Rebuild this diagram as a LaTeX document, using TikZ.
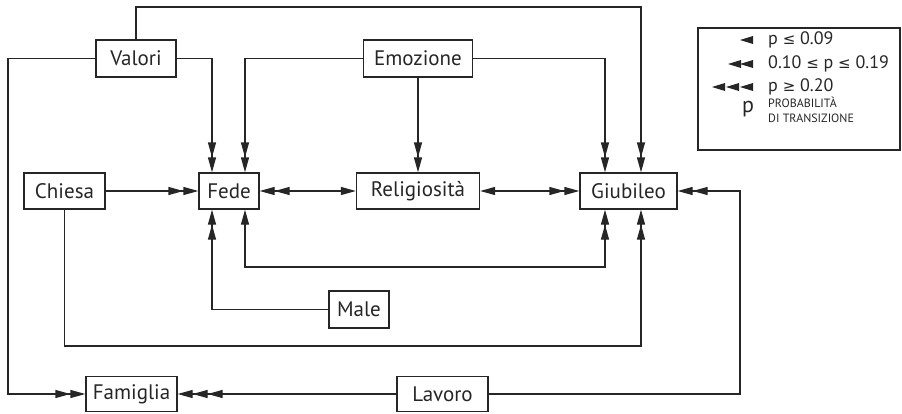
\documentclass[tikz,border=0pt]{standalone}
\usepackage{fontspec}
\setmainfont{PT Sans}
\newfontfamily\symfont{DejaVu Sans}
\newcommand{\myle}{{\symfont\fontsize{15}{17}\selectfont ≤}}
\newcommand{\myge}{{\symfont\fontsize{15}{17}\selectfont ≥}}
\usetikzlibrary{arrows.meta}
\definecolor{ink}{HTML}{262626}
\tikzset{
  box/.style={draw=ink, line width=1.3pt, inner sep=0pt, font=\fontsize{21}{23}\selectfont, text=ink},
  conn/.style={draw=ink, line width=1.3pt},
  one/.style={conn, -{Triangle[length=15pt,width=8pt]}},
  two/.style={conn, -{Triangle[length=15pt,width=8pt] Triangle[length=15pt,width=8pt]}},
  three/.style={conn, -{Triangle[length=15pt,width=8pt] Triangle[length=15pt,width=8pt] Triangle[length=15pt,width=8pt]}},
  twoone/.style={conn, {Triangle[length=15pt,width=8pt] Triangle[length=15pt,width=8pt]}-{Triangle[length=15pt,width=8pt]}},
  onetwo/.style={conn, {Triangle[length=15pt,width=8pt]}-{Triangle[length=15pt,width=8pt] Triangle[length=15pt,width=8pt]}},
  leg/.style={fill=ink, draw=none},
  legtext/.style={font=\fontsize{18}{20}\selectfont, text=ink, anchor=west, inner sep=0pt}
}
\begin{document}
\begin{tikzpicture}[x=1pt,y=-1pt]
\useasboundingbox (0,0) rectangle (902,413);
% nodes
\node[box, minimum width=80pt, minimum height=37pt] (Valori) at (136,58.5) {Valori};
\node[box, minimum width=109pt, minimum height=37pt] (Emozione) at (418,58.5) {Emozione};
\node[box, minimum width=81pt, minimum height=36pt] (Chiesa) at (64.5,191) {Chiesa};
\node[box, minimum width=60pt, minimum height=36pt] (Fede) at (229,191) {Fede};
\node[box, minimum width=123pt, minimum height=36pt] (Rel) at (418,191) {Religiosità};
\node[box, minimum width=97pt, minimum height=36pt] (Giub) at (628.5,191) {Giubileo};
\node[box, minimum width=60pt, minimum height=37pt] (Male) at (359,309.5) {Male};
\node[box, minimum width=91pt, minimum height=35pt] (Fam) at (131.5,394) {Famiglia};
\node[box, minimum width=91pt, minimum height=35pt] (Lav) at (442.5,394) {Lavoro};
% connectors
\draw[two] (Valori.north) |- (641,7) -- (641,0 |- Giub.north);
\draw[two] (Valori.west) -| (8,0 |- Fam.west) -- (Fam.west);
\draw[two] (Valori.east) -| (212,0 |- Fede.north);
\draw[two] (Emozione.west) -| (245,0 |- Fede.north);
\draw[two] (Emozione.south) -- (Rel.north);
\draw[two] (Emozione.east) -| (605,0 |- Giub.north);
\draw[two] (Chiesa.east) -- (Fede.west);
\draw[twoone] (Fede.east) -- (Rel.west);
\draw[onetwo] (Rel.east) -- (Giub.west);
\draw[two] (Lav.east) -| (740,0 |- Giub.east) -- (Giub.east);
\draw[three] (Lav.west) -- (Fam.east);
\draw[onetwo] (245,0 |- Fede.south) |- (605,267) -- (605,0 |- Giub.south);
\draw[two] (Male.west) -| (212,0 |- Fede.south);
\draw[two] (Chiesa.south) |- (641,346) -- (641,0 |- Giub.south);
% legend
\node[draw=ink, line width=1.3pt, minimum width=202pt, minimum height=122pt, inner sep=0pt] (Leg) at (799,89) {};
\fill[leg] (740,40) -- (753,36) -- (753,44) -- cycle;
\fill[leg] (728,64) -- (741,60) -- (741,68) -- cycle;
\fill[leg] (740,64) -- (753,60) -- (753,68) -- cycle;
\fill[leg] (712,87) -- (725,83) -- (725,91) -- cycle;
\fill[leg] (726,87) -- (739,83) -- (739,91) -- cycle;
\fill[leg] (740,87) -- (753,83) -- (753,91) -- cycle;
\node[legtext] (L1) at (768,40) {p \myle\ 0.09};
\node[legtext] (L2) at (768,64) {0.10 \myle\ p \myle\ 0.19};
\node[legtext] (L3) at (768,87) {p \myge\ 0.20};
\node[legtext, font=\fontsize{22}{22}\selectfont] (L4) at (742,109) {p};
\node[legtext, font=\fontsize{12}{15}\selectfont, align=left] (L5) at (768,110) {PROBABILITÀ\\DI TRANSIZIONE};
\end{tikzpicture}
\end{document}
